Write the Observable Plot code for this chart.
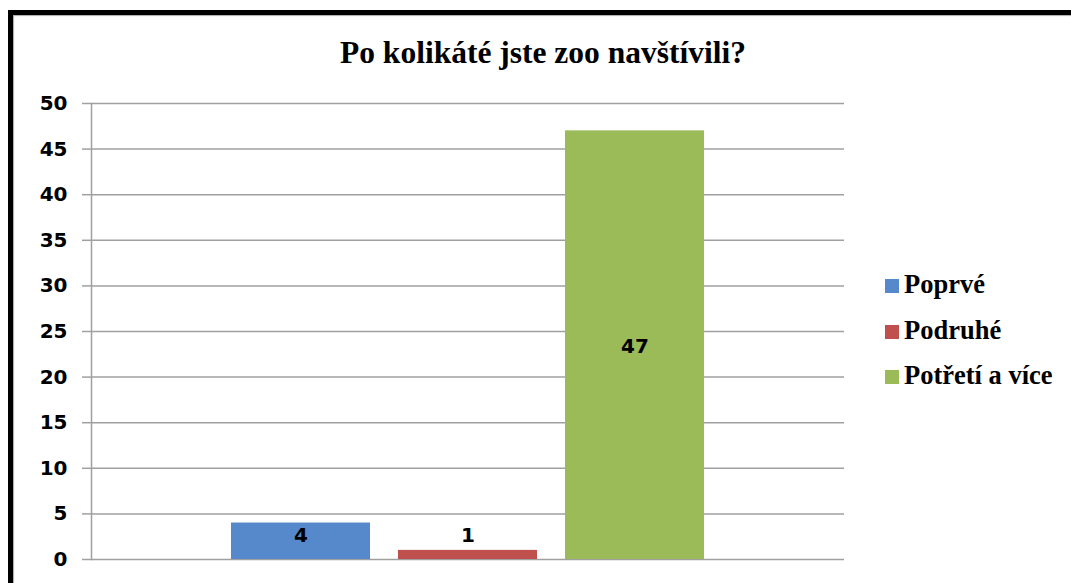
<!DOCTYPE html>
<html>
<head>
<meta charset="utf-8">
<script src="https://cdn.jsdelivr.net/npm/d3@7"></script>
<script src="https://cdn.jsdelivr.net/npm/@observablehq/plot@0.6"></script>
<style>
  html, body { margin: 0; padding: 0; background: #fff; }
  #wrap { position: relative; width: 1071px; height: 583px; overflow: hidden; background: #fff; }
  #border { position: absolute; left: 8px; top: 10px; width: 1100px; height: 600px;
            border-top: 5px solid #000; border-left: 5px solid #000; box-shadow: 1px 1px 1px #aaa inset; }
  #title { position: absolute; left: 0; width: 1086px; top: 37px; text-align: center;
           font-family: "Liberation Serif", serif; font-weight: bold; font-size: 31.5px; line-height: 31px; color: #000; }
  #chart { position: absolute; left: 0; top: 0; }
  .lg { position: absolute; left: 885px; font-family: "Liberation Serif", serif; font-weight: bold;
        font-size: 26.5px; line-height: 26px; color: #000; white-space: nowrap; }
  .sw { display: inline-block; width: 14px; height: 14px; margin-right: 5px; vertical-align: baseline; }
</style>
</head>
<body>
<div id="wrap">
  <div id="border"></div>
  <div id="title">Po kolikáté jste zoo navštívili?</div>
  <div id="chart"></div>
  <div id="legend"></div>
</div>
<script>
const categories = ["Poprvé", "Podruhé", "Potřetí a více"];
const values = [4, 1, 47];
const colors = ["#5689CC", "#C0504D", "#9BBB59"];
const yTicks = [0, 5, 10, 15, 20, 25, 30, 35, 40, 45, 50];

const data = categories.map((c, i) => ({ cat: c, v: values[i] }));

const numFont = "'DejaVu Sans', sans-serif";

const chart = Plot.plot({
  width: 1071,
  height: 583,
  marginLeft: 91,
  marginRight: 227,
  marginTop: 103,
  marginBottom: 24,
  style: { background: "transparent", overflow: "visible" },
  x: { type: "band", domain: categories, paddingInner: 0.168, paddingOuter: 0.838, axis: null },
  y: { domain: [0, 50] },
  color: { domain: categories, range: colors },
  marks: [
    Plot.gridY(yTicks, { stroke: "#a0a0a0", strokeOpacity: 1, strokeWidth: 1.5 }),
    Plot.barY(data, { x: "cat", y: "v", fill: "cat" }),
    Plot.frame({ anchor: "left", stroke: "#a0a0a0", strokeWidth: 1.5 }),
    Plot.axisY({ ticks: yTicks, tickSize: 9, tickPadding: 15, stroke: "#a0a0a0", strokeWidth: 1.5,
                 fontSize: 20, fontWeight: "bold", fontFamily: numFont, fill: "#000", label: null }),
    Plot.text(data, { x: "cat", y: d => Math.max(d.v / 2, 2.7), text: d => String(d.v),
                      fontSize: 20, fontWeight: "bold", fontFamily: numFont, fill: "#000", dy: 1 })
  ]
});
document.getElementById("chart").appendChild(chart);

const legend = document.getElementById("legend");
const tops = [271, 317, 362];
categories.forEach((c, i) => {
  const row = document.createElement("div");
  row.className = "lg";
  row.style.top = tops[i] + "px";
  const sw = document.createElement("span");
  sw.className = "sw";
  sw.style.background = colors[i];
  row.appendChild(sw);
  row.appendChild(document.createTextNode(c));
  legend.appendChild(row);
});
</script>
</body>
</html>
